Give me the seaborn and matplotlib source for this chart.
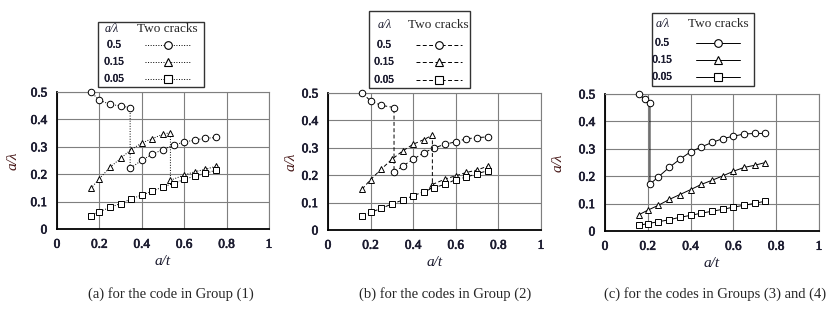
import matplotlib
matplotlib.use("Agg")
import matplotlib.pyplot as plt
import matplotlib.patheffects as pe
from matplotlib.patches import Rectangle
import seaborn as sns

# ---- data (a/t vs a/lambda) ----
x_common = [0.16, 0.2, 0.25, 0.3, 0.35, 0.4, 0.45, 0.5, 0.55, 0.6, 0.65, 0.7, 0.75]

# (a) code in Group (1)
a_circ_x = [0.16, 0.2, 0.25, 0.3, 0.345, 0.345, 0.4, 0.45, 0.5, 0.55, 0.6, 0.65, 0.7, 0.75]
a_circ_y = [0.5, 0.47, 0.455, 0.449, 0.443, 0.221, 0.251, 0.273, 0.29, 0.306, 0.317, 0.325, 0.331, 0.334]
a_tri_x = [0.16, 0.2, 0.25, 0.3, 0.35, 0.4, 0.45, 0.5, 0.535, 0.535, 0.6, 0.65, 0.7, 0.75]
a_tri_y = [0.148, 0.184, 0.225, 0.258, 0.29, 0.314, 0.33, 0.346, 0.352, 0.178, 0.197, 0.209, 0.218, 0.229]
a_sq_y = [0.049, 0.063, 0.079, 0.093, 0.110, 0.124, 0.138, 0.154, 0.166, 0.181, 0.193, 0.203, 0.215]

# (b) codes in Group (2)
b_circ_x = [0.16, 0.2, 0.25, 0.31, 0.31, 0.35, 0.4, 0.45, 0.5, 0.55, 0.6, 0.65, 0.7, 0.75]
b_circ_y = [0.5, 0.471, 0.455, 0.447, 0.21, 0.233, 0.258, 0.282, 0.3, 0.313, 0.322, 0.333, 0.337, 0.34]
b_tri_x = [0.16, 0.2, 0.25, 0.3, 0.35, 0.4, 0.45, 0.49, 0.49, 0.55, 0.6, 0.65, 0.7, 0.75]
b_tri_y = [0.149, 0.184, 0.222, 0.258, 0.288, 0.313, 0.33, 0.346, 0.166, 0.186, 0.198, 0.21, 0.219, 0.233]
b_sq_y = [0.051, 0.064, 0.079, 0.095, 0.109, 0.125, 0.14, 0.155, 0.167, 0.184, 0.193, 0.206, 0.216]

# (c) codes in Groups (3) and (4)
c_circ_x = [0.16, 0.185, 0.21, 0.21, 0.25, 0.3, 0.35, 0.4, 0.45, 0.5, 0.55, 0.6, 0.65, 0.7, 0.75]
c_circ_y = [0.5, 0.48, 0.466, 0.171, 0.198, 0.232, 0.262, 0.289, 0.307, 0.323, 0.337, 0.346, 0.354, 0.356, 0.356]
c_tri_y = [0.06, 0.076, 0.094, 0.115, 0.133, 0.151, 0.17, 0.185, 0.201, 0.218, 0.232, 0.24, 0.25]
c_sq_y = [0.021, 0.027, 0.034, 0.041, 0.05, 0.057, 0.065, 0.072, 0.079, 0.087, 0.094, 0.101, 0.109]

x_ticks = [0, 0.2, 0.4, 0.6, 0.8, 1]
x_tick_labels = ["0", "0.2", "0.4", "0.6", "0.8", "1"]
y_ticks = [0, 0.1, 0.2, 0.3, 0.4, 0.5]
y_tick_labels = ["0", "0.1", "0.2", "0.3", "0.4", "0.5"]
legend_labels = ["0.5", "0.15", "0.05"]
markers = ["o", "^", "s"]
captions = ["(a) for the code in Group (1)",
            "(b) for the codes in Group (2)",
            "(c) for the codes in Groups (3) and (4)"]

sns.set_theme(style="whitegrid")
plt.rcParams["font.family"] = ["Liberation Serif", "DejaVu Serif"]

W, H = 828, 310
fig = plt.figure(figsize=(W / 100, H / 100), dpi=100)

GRID = "#7f7f7f"
TICK_COLOR = "#1c1c30"
thick = [pe.withStroke(linewidth=0.5, foreground=TICK_COLOR)]


def px_rect(left, top, right, bottom):
    return [left / W, 1 - bottom / H, (right - left) / W, (bottom - top) / H]


def draw_panel(ax, series, ls, ylab_x):
    for xs, ys, mk in series:
        sns.lineplot(x=xs, y=ys, ax=ax, sort=False, estimator=None, color="black",
                     linestyle=ls, linewidth=0.7, marker=mk, markersize=4.7,
                     markerfacecolor="white", markeredgecolor="black",
                     markeredgewidth=0.7, clip_on=False, zorder=3)
    ax.set_xlim(0, 1)
    ax.set_ylim(0, 0.5)
    ax.set_xticks(x_ticks, x_tick_labels)
    ax.set_yticks(y_ticks, y_tick_labels)
    ax.grid(True, color=GRID, linewidth=0.8)
    ax.tick_params(length=0, pad=7, labelsize=9.5, labelcolor=TICK_COLOR)
    for t in ax.get_xticklabels() + ax.get_yticklabels():
        t.set_path_effects(thick)
    for s in ["left", "bottom"]:
        ax.spines[s].set_color("black")
        ax.spines[s].set_linewidth(1.3)
    for s in ["top", "right"]:
        ax.spines[s].set_color(GRID)
        ax.spines[s].set_linewidth(0.8)
    ax.set_xlabel("a/t", style="italic", fontsize=11, color="#1c1c30", labelpad=3)
    ax.set_ylabel("a/λ", style="italic", fontsize=11, color="#4a1c1c")
    ax.yaxis.set_label_coords(ylab_x, 0.5)


ax_a = fig.add_axes(px_rect(57, 92, 269, 229))
draw_panel(ax_a, [(a_circ_x, a_circ_y, "o"), (a_tri_x, a_tri_y, "^"),
                  (x_common, a_sq_y, "s")], ":", -0.175)

ax_b = fig.add_axes(px_rect(328, 93, 541, 230))
draw_panel(ax_b, [(b_circ_x, b_circ_y, "o"), (b_tri_x, b_tri_y, "^"),
                  (x_common, b_sq_y, "s")], (0, (4, 2.5)), -0.145)

ax_c = fig.add_axes(px_rect(605, 94, 819, 231))
draw_panel(ax_c, [(c_circ_x, c_circ_y, "o"), (x_common, c_tri_y, "^"),
                  (x_common, c_sq_y, "s")], "-", -0.19)

# overlay in pixel coordinates for legend boxes and captions
ov = fig.add_axes([0, 0, 1, 1], zorder=10)
ov.set_xlim(0, W)
ov.set_ylim(H, 0)
ov.axis("off")


def draw_legend(box, hdr_y, hdr_ax, hdr_tx, row_ys, row_x, s0, s1, ls):
    x0, y0, x1, y1 = box
    ov.add_patch(Rectangle((x0, y0), x1 - x0, y1 - y0, fill=False,
                           edgecolor="#333333", linewidth=1.0))
    ov.text(hdr_ax, hdr_y, "a/λ", style="italic", ha="center", va="center",
            fontsize=8.5, color=TICK_COLOR)
    ov.text(hdr_tx, hdr_y, "Two cracks", ha="center", va="center", fontsize=9.5)
    for y, lab, mk in zip(row_ys, legend_labels, markers):
        ov.text(row_x, y, lab, ha="center", va="center", fontsize=8,
                color=TICK_COLOR, path_effects=[pe.withStroke(linewidth=0.4, foreground=TICK_COLOR)])
        ov.plot([s0, s1], [y, y], color="black", linestyle=ls, linewidth=0.7)
        ov.plot([(s0 + s1) / 2], [y], marker=mk, markersize=5.5,
                markerfacecolor="white", markeredgecolor="black",
                markeredgewidth=0.8)


draw_legend((98, 22, 204, 87), 29, 112, 167, [45, 62, 79], 114, 145, 191, ":")
draw_legend((369, 11, 470, 88), 25, 385, 438, [45, 62, 80], 384, 416, 462, (0, (4, 2.5)))
draw_legend((652, 13, 754, 86), 24, 663, 718, [43, 60, 77], 662, 696, 740, "-")

for cx, cap in zip([171, 445, 715], captions):
    ov.text(cx, 294, cap, ha="center", va="center", fontsize=10.5)

fig.savefig("out.png", dpi=100)
